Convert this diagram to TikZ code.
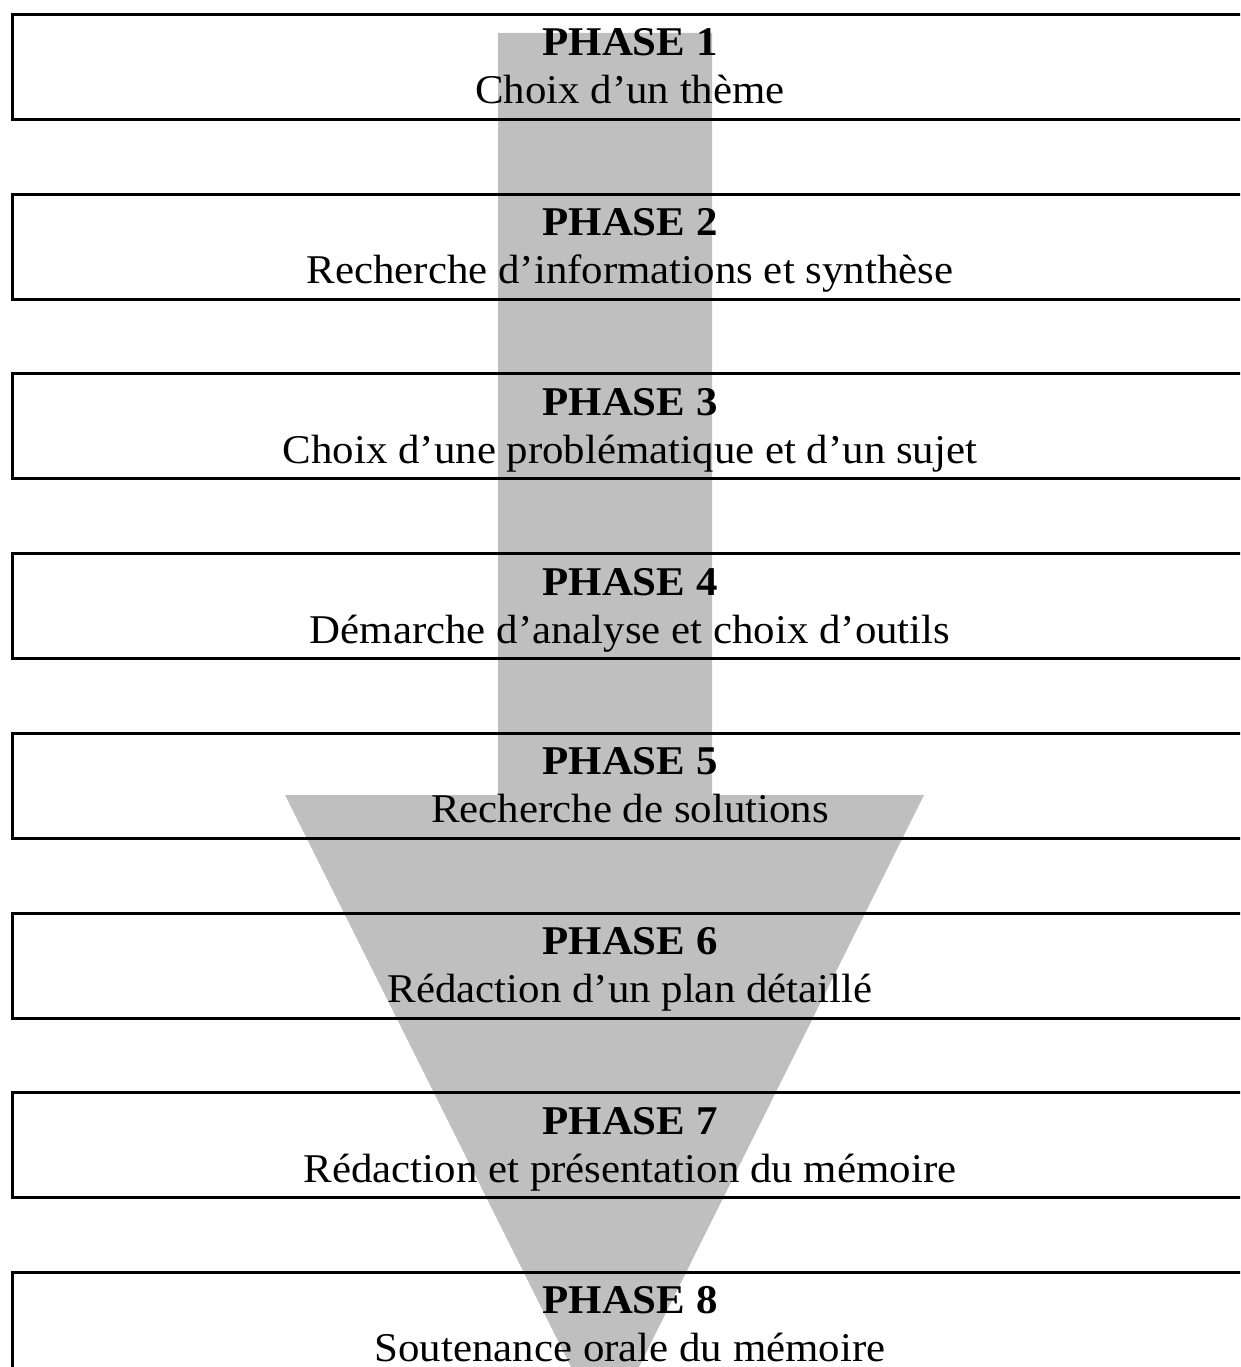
\documentclass[tikz,border=0pt]{standalone}
\usepackage{graphicx}
\usepackage{fontspec}
\setmainfont{Liberation Serif}
\newcommand{\wide}[1]{\scalebox{1.05}[1]{#1}}
\begin{document}
\begin{tikzpicture}[x=0.6pt,y=-0.6pt,
  phasebox/.style={draw=black,line width=1.8pt,rectangle,inner sep=0pt,anchor=north west,minimum width={1238*0.6pt},minimum height={105*0.6pt}},
  phasetitle/.style={anchor=base,font=\fontsize{24.5}{24.5}\selectfont\bfseries,inner sep=0pt},
  phasetext/.style={anchor=base,font=\fontsize{24.5}{24.5}\selectfont,inner sep=0pt},
  bigarrow/.style={fill=black!25,draw=none}]
\useasboundingbox (0,0) rectangle (1240,1367);
\begin{scope}
\clip (0,0) rectangle (1240,1367);
\fill[bigarrow] (498,33) -- (712,33) -- (712,795) -- (924,795) -- (605,1435) -- (285,795) -- (498,795) -- cycle;
\foreach \i/\t in {1/{Choix d’un thème},2/{Recherche d’informations et synthèse},3/{Choix d’une problématique et d’un sujet},4/{Démarche d’analyse et choix d’outils},5/{Recherche de solutions},6/{Rédaction d’un plan détaillé},7/{Rédaction et présentation du mémoire},8/{Soutenance orale du mémoire}}{
  \pgfmathsetmacro{\top}{13+179.7*(\i-1)}
  \node[phasebox] (box\i) at (11,\top) {};
  \node[phasetitle] (title\i) at (630,\top+43) {\wide{PHASE \i}};
  \node[phasetext] (text\i) at (630,\top+91) {\wide{\t}};
}
\end{scope}
\end{tikzpicture}
\end{document}
